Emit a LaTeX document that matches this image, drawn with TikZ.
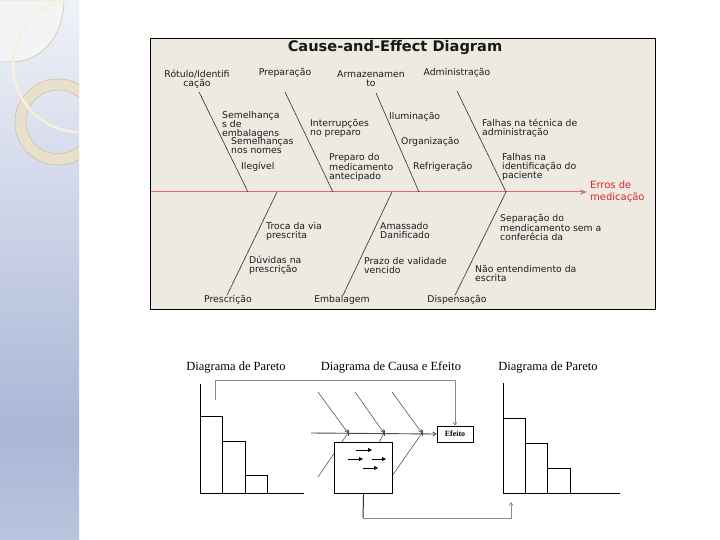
\documentclass[tikz,border=0pt]{standalone}
\usepackage{fontspec}
\setmainfont{Liberation Serif}
\newfontfamily\vfont{DejaVu Sans}
\usetikzlibrary{arrows.meta}
\definecolor{panelA}{HTML}{F0F2F8}
\definecolor{panelB}{HTML}{A9B6D6}
\definecolor{panelC}{HTML}{BAC4DE}
\definecolor{ringfill}{HTML}{E9E0CB}
\definecolor{ringline}{HTML}{C9BC9C}
\definecolor{creamarc}{HTML}{F7F0DA}
\definecolor{piecefill}{HTML}{F4F4F7}
\definecolor{boxbg}{HTML}{EEEAE1}
\definecolor{spinered}{HTML}{DB6A6A}
\definecolor{effred}{HTML}{D42A2A}
\definecolor{bonecol}{HTML}{2E2E2E}
\definecolor{txtcol}{HTML}{1C1C1C}
\definecolor{conngrey}{HTML}{8A8A8A}
\tikzset{
  lbl/.style={font=\vfont\fontsize{9.3}{9}\selectfont, text=txtcol, inner sep=0pt, align=left, anchor=west},
  clbl/.style={lbl, align=center, anchor=center},
  bone/.style={draw=bonecol, line width=0.6pt},
  sertitle/.style={font=\fontsize{12.5}{14}\selectfont, inner sep=0pt, anchor=base},
  barbox/.style={draw=black, line width=0.9pt},
  axisline/.style={draw=black, line width=0.9pt},
  mini/.style={draw=black!75, line width=0.5pt},
  conn/.style={draw=conngrey, line width=0.7pt},
}
\begin{document}
\begin{tikzpicture}[x=1pt,y=-1pt]
\path[use as bounding box] (0,0) rectangle (720,540);
\fill[white] (0,0) rectangle (720,540);
% left panel
\shade[top color=panelA, bottom color=panelB] (0,0) rectangle (79,431);
\shade[top color=panelB, bottom color=panelC] (0,430) rectangle (79,540);
\begin{scope}
\clip (0,0) rectangle (79,540);
\draw[draw=ringline, line width=0.5pt, fill=piecefill] (0,0) -- (64,0) .. controls (64,35) and (42,62) .. (12,62) -- (0,62);
\draw[ringline, line width=0.5pt, fill=ringfill, even odd rule] (58,122) circle[radius=43pt] (58,122) circle[radius=32pt];
\draw[creamarc, line width=2.5pt] (80,65) circle[radius=67pt];
\end{scope}
% cause-and-effect panel
\node[draw=black, line width=0.8pt, fill=boxbg, minimum width=505pt, minimum height=271pt, anchor=north west, inner sep=0pt] (panel) at (150,38) {};
\node[font=\vfont\bfseries\fontsize{14.6}{16}\selectfont, text=black!90, inner sep=0pt] (title) at (395,48) {Cause-and-Effect Diagram};
% spine
\coordinate (sL) at (151,192);
\node[font=\vfont\fontsize{10}{12.5}\selectfont, text=effred, inner sep=0pt, align=left, anchor=west] (effect) at (590,191.5) {Erros de\\medicação};
\draw[draw=spinered, line width=1pt, -{Stealth[length=7pt,width=5pt,fill=effred]}] (sL) -- ([xshift=-3pt]effect.west |- sL);
% junctions on spine
\coordinate (j1) at (248,192);
\coordinate (j2) at (333,192);
\coordinate (j3) at (419,192);
\coordinate (j4) at (506,192);
\coordinate (k1) at (277,192);
\coordinate (k2) at (392,192);
% top category labels
\node[clbl] (rot) at (197,79) {Rótulo/Identifi\\cação};
\node[clbl] (prepar) at (285,73) {Preparação};
\node[clbl] (armaz) at (371,79) {Armazenamen\\to};
\node[clbl] (admin) at (457,73) {Administração};
\coordinate (t1) at (199,92);
\coordinate (t2) at (285,92);
\coordinate (t3) at (376,93);
\coordinate (t4) at (457,91);
\draw[bone] (t1) -- (j1);
\draw[bone] (t2) -- (j2);
\draw[bone] (t3) -- (j3);
\draw[bone] (t4) -- (j4);
% bottom category labels
\node[clbl] (presc) at (228,300) {Prescrição};
\node[clbl] (embal) at (342,300) {Embalagem};
\node[clbl] (dispe) at (457,300) {Dispensação};
\draw[bone] (k1) -- ([xshift=-1pt]presc.north);
\draw[bone] (k2) -- ([xshift=1pt]embal.north);
\draw[bone] (j4) -- ([xshift=-2pt]dispe.north);
% cause labels, upper
\node[lbl] (sem1) at (222,124.5) {Semelhança\\s de\\embalagens};
\node[lbl] (sem2) at (231,146) {Semelhanças\\nos nomes};
\node[lbl] (ileg) at (241,167) {Ilegível};
\node[lbl] (inter) at (310,128.5) {Interrupções\\no preparo};
\node[lbl] (prepm) at (329,167) {Preparo do\\medicamento\\antecipado};
\node[lbl] (ilum) at (389,117) {Iluminação};
\node[lbl] (organ) at (401,142) {Organização};
\node[lbl] (refri) at (413,167) {Refrigeração};
\node[lbl] (falt) at (482,128.5) {Falhas na técnica de\\administração};
\node[lbl] (fali) at (502,167) {Falhas na\\identificação do\\paciente};
% cause labels, lower
\node[lbl] (troca) at (266,231.5) {Troca da via\\prescrita};
\node[lbl] (duvid) at (249,265.5) {Dúvidas na\\prescrição};
\node[lbl] (amass) at (380,230.5) {Amassado\\Danificado};
\node[lbl] (prazo) at (364,266) {Prazo de validade\\vencido};
\node[lbl] (separ) at (500,227) {Separação do\\mendicamento sem a\\conferêcia da};
\node[lbl] (naoent) at (475,273.5) {Não entendimento da\\escrita};
% ---------- lower figure ----------
\node[sertitle] (ttl1) at (236,370) {Diagrama de Pareto};
\node[sertitle] (ttl2) at (391,370) {Diagrama de Causa e Efeito};
\node[sertitle] (ttl3) at (548,370) {Diagrama de Pareto};
% left pareto
\draw[axisline] (200,384) -- (200,493) -- (304,493);
\draw[barbox] (200,493) |- (222,416) -- (222,493);
\draw[barbox] (222,493) |- (245,441) -- (245,493);
\draw[barbox] (245,493) |- (267,475) -- (267,493);
% right pareto
\draw[axisline] (503,383) -- (503,493) -- (620,493);
\draw[barbox] (503,493) |- (525,418) -- (525,493);
\draw[barbox] (525,493) |- (547,443) -- (547,493);
\draw[barbox] (547,493) |- (570,468) -- (570,493);
% mini fishbone
\node[draw=black, line width=0.8pt, fill=white, font=\bfseries\fontsize{8}{9}\selectfont, minimum width=36pt, minimum height=16pt, inner sep=0pt] (efeito) at (455,434) {Efeito};
\coordinate (ms) at (311,433);
\draw[draw=black!70, line width=0.9pt, -{Straight Barb[length=3pt,width=4pt]}] (ms) -- (efeito.west);
\coordinate (m1) at (348,433);
\coordinate (m2) at (384,433);
\coordinate (m3) at (422,433);
\draw[mini, -{Straight Barb[length=3pt,width=3pt]}] (318,392) -- (m1);
\draw[mini, -{Straight Barb[length=3pt,width=3pt]}] (355,392) -- (m2);
\draw[mini, -{Straight Barb[length=3pt,width=3pt]}] (392,392) -- (m3);
\draw[mini] (318,477) -- (m1);
\draw[mini] (371,458) -- (m2);
\draw[mini] (392,476) -- (m3);
\foreach \c in {m1,m2,m3} \draw[black!70, line width=0.6pt] ([yshift=3pt]\c) -- ([yshift=-3pt]\c);
\node[draw=black, line width=1.1pt, fill=white, minimum width=58pt, minimum height=51pt, anchor=north west, inner sep=0pt] (proc) at (334,442) {};
\draw[-{Triangle[length=4pt,width=4pt]}, line width=0.8pt] (356,450) -- (372,450);
\draw[-{Triangle[length=4pt,width=4pt]}, line width=0.8pt] (348,459) -- (363,459);
\draw[-{Triangle[length=4pt,width=4pt]}, line width=0.8pt] (372,459) -- (386,459);
\draw[-{Triangle[length=4pt,width=4pt]}, line width=0.8pt] (363,468) -- (378,468);
% connectors
\coordinate (p1) at (215,400);
\draw[conn, -{Straight Barb[length=3pt,width=4pt]}] (p1) -- (215,380) -| (efeito.north);
\coordinate (p2) at (511,502);
\draw[draw=black!80, line width=1pt] (proc.south) -- (363,518);
\draw[conn, -{Straight Barb[length=3pt,width=4pt]}] (363,518) -| (p2);
\end{tikzpicture}
\end{document}
